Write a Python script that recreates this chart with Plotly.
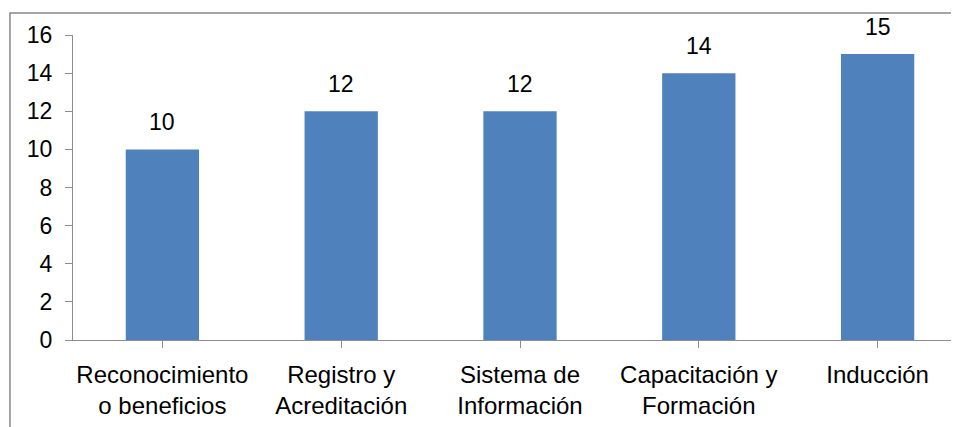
import plotly.graph_objects as go

categories = ["Reconocimiento<br>o beneficios", "Registro y<br>Acreditación",
              "Sistema de<br>Información", "Capacitación y<br>Formación", "Inducción"]
values = [10, 12, 12, 14, 15]
y_ticks = [0, 2, 4, 6, 8, 10, 12, 14, 16]

FONT = "Liberation Sans, Arial, sans-serif"
AXIS_COLOR = "#8c8c8c"

fig = go.Figure()
fig.add_trace(go.Bar(
    x=list(range(len(categories))), y=values,
    marker=dict(color="#4F81BD", line=dict(width=0)),
    width=0.41,
))

for i, v in enumerate(values):
    fig.add_annotation(x=i, y=v, text=str(v), showarrow=False,
                       yanchor="bottom", yshift=12,
                       font=dict(family=FONT, size=23, color="#000000"))

# chart-area border (left and top edges visible in the crop)
fig.add_shape(type="path", xref="paper", yref="paper",
              path="M -0.0705,-0.5 L -0.0705,1.072 L 1.2,1.072",
              line=dict(color="#888888", width=1.5))

fig.update_layout(
    width=959, height=427,
    margin=dict(l=65, r=0, t=27, b=95),
    paper_bgcolor="white", plot_bgcolor="white",
    showlegend=False,
    font=dict(family=FONT, color="#000000"),
    xaxis=dict(
        range=[-0.5, 4.5],
        tickmode="array", tickvals=list(range(len(categories))), ticktext=categories,
        showgrid=False, zeroline=False,
        showline=True, linecolor=AXIS_COLOR, linewidth=1,
        ticks="outside", ticklen=7, tickcolor=AXIS_COLOR,
        tickfont=dict(family=FONT, size=24, color="#000000"),
        ticklabelstandoff=6,
    ),
    yaxis=dict(
        range=[0, 16],
        tickmode="array", tickvals=y_ticks,
        showgrid=False, zeroline=False,
        showline=True, linecolor=AXIS_COLOR, linewidth=1,
        ticks="outside", ticklen=7, tickcolor=AXIS_COLOR,
        tickfont=dict(family=FONT, size=23, color="#000000"),
        ticklabelstandoff=8,
    ),
)

fig.write_html("out.html")
